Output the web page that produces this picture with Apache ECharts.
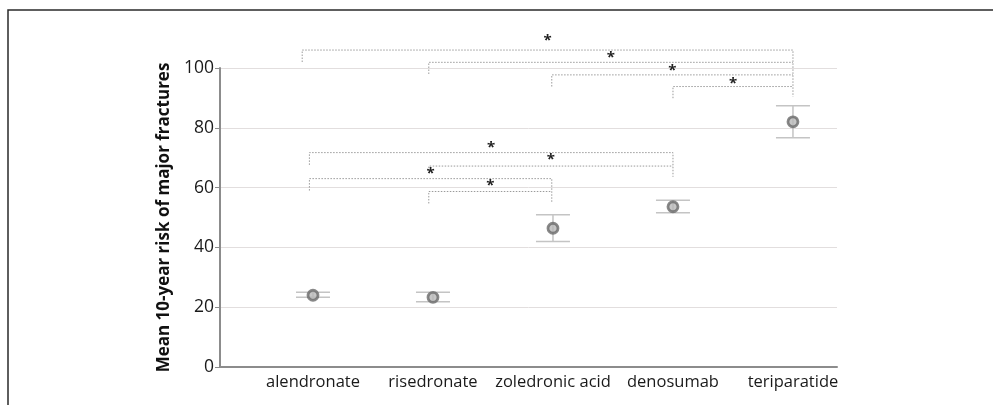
<!doctype html>
<html>

<head>
    <meta charset="utf-8">
    <title>10-year fracture risk</title>
    <script src="https://cdn.jsdelivr.net/npm/echarts@6/dist/echarts.min.js"></script>
</head>

<body style="margin:0;background:#fff;">
    <div id="container" style="width:993px;height:405px;"></div>

    <script type="text/javascript">
        // 药物分类及位置
        var drugs = ['alendronate', 'risedronate', 'zoledronic acid', 'denosumab', 'teriparatide'];
        var drugPos = [1, 2, 3, 4, 5];
        // 均值和误差范围
        var means = [24.0, 23.3, 46.4, 53.6, 82.0];
        var upper = [25.0, 25.0, 50.9, 55.8, 87.4];
        var lower = [23.3, 21.8, 42.0, 51.6, 76.7];
        // 显著性括号: 左x, 右x, 横线高度, 左脚底, 右脚底, 星号高度
        var brLeft = [0.91, 1.965, 2.99, 4, 0.97, 1.965, 0.97, 1.965];
        var brRight = [5, 5, 5, 5, 4, 4, 2.99, 2.99];
        var brTop = [106, 101.9, 97.7, 93.8, 71.7, 67.2, 63.0, 58.7];
        var brLeftEnd = [102, 98, 93.8, 89.9, 67.6, 65.5, 59, 54.7];
        var brRightEnd = [90.4, 101.9, 97.7, 93.8, 63.6, 67.2, 55.1, 58.7];
        var starY = [109.7, 104, 99.9, 95.4, 73.9, 69.9, 65.3, 61.2];
        var yTicks = [0, 20, 40, 60, 80, 100];

        var errData = drugPos.map(function(x, i) {
            return [x, lower[i], upper[i]];
        });
        var brData = brLeft.map(function(x, i) {
            return [x, brTop[i], brRight[i], brLeftEnd[i], brRightEnd[i], starY[i]];
        });

        var option = {
            animation: false,
            graphic: [{
                type: 'rect',
                shape: { x: 8, y: 10, width: 1100, height: 500 },
                style: { fill: 'none', stroke: '#2a2a2a', lineWidth: 1.5 },
                silent: true
            }],
            grid: { left: 220, right: 156, top: 68, bottom: 38 },
            xAxis: {
                type: 'value',
                min: 0.225,
                max: 5.367,
                splitLine: { show: false },
                axisTick: { show: false },
                axisLine: { lineStyle: { color: '#8c8c8c', width: 2 } },
                axisLabel: {
                    customValues: drugPos,
                    formatter: function(v) {
                        return drugs[Math.round(v) - 1];
                    },
                    color: '#1a1a1a',
                    fontSize: 16.5,
                    fontFamily: 'Open Sans',
                    margin: 7
                }
            },
            yAxis: {
                type: 'value',
                min: 0,
                max: 100,
                interval: 20,
                name: 'Mean 10-year risk of major fractures',
                nameLocation: 'middle',
                nameGap: 42,
                nameTextStyle: {
                    fontSize: 17,
                    fontWeight: 'bold',
                    color: '#111',
                    fontFamily: 'Open Sans'
                },
                axisLine: { show: true, lineStyle: { color: '#8c8c8c', width: 2 } },
                axisTick: { show: true, length: 5, lineStyle: { color: '#8c8c8c' } },
                axisLabel: {
                    color: '#1a1a1a',
                    fontSize: 17.5,
                    fontFamily: 'Open Sans',
                    margin: 6,
                    formatter: function(v) {
                        return yTicks.indexOf(v) >= 0 ? String(v) : '';
                    }
                },
                splitLine: { lineStyle: { color: '#e2dede', width: 1 } }
            },
            series: [{
                // 误差线
                type: 'custom',
                clip: false,
                z: 2,
                renderItem: function(params, api) {
                    var x = api.value(0);
                    var lo = api.coord([x, api.value(1)]);
                    var hi = api.coord([x, api.value(2)]);
                    var w = 17;
                    var st = { stroke: '#c4c4c4', lineWidth: 1.5 };
                    return {
                        type: 'group',
                        children: [
                            { type: 'line', shape: { x1: lo[0], y1: lo[1], x2: hi[0], y2: hi[1] }, style: st },
                            { type: 'line', shape: { x1: lo[0] - w, y1: lo[1], x2: lo[0] + w, y2: lo[1] }, style: st },
                            { type: 'line', shape: { x1: hi[0] - w, y1: hi[1], x2: hi[0] + w, y2: hi[1] }, style: st }
                        ]
                    };
                },
                data: errData
            }, {
                // 均值点
                type: 'scatter',
                z: 3,
                symbol: 'circle',
                symbolSize: 10,
                itemStyle: { color: '#b8b8b8', borderColor: '#6a6a6a', borderWidth: 2.8 },
                data: drugPos.map(function(x, i) { return [x, means[i]]; })
            }, {
                // 显著性括号
                type: 'custom',
                clip: false,
                z: 4,
                renderItem: function(params, api) {
                    var x1 = api.value(0), top = api.value(1), x2 = api.value(2);
                    var a = api.coord([x1, api.value(3)]);
                    var b = api.coord([x1, top]);
                    var c = api.coord([x2, top]);
                    var d = api.coord([x2, api.value(4)]);
                    var s = api.coord([(x1 + x2) / 2, api.value(5)]);
                    return {
                        type: 'group',
                        children: [{
                            type: 'polyline',
                            shape: { points: [a, b, c, d] },
                            style: { stroke: '#9a9a9a', lineWidth: 1, lineDash: [1.5, 1.5], fill: null }
                        }, {
                            type: 'text',
                            x: s[0],
                            y: s[1] + 2,
                            style: {
                                text: '*',
                                fill: '#222',
                                font: 'bold 15px "Open Sans"',
                                align: 'center',
                                verticalAlign: 'middle'
                            }
                        }]
                    };
                },
                data: brData
            }]
        };
        var myChart = echarts.init(document.getElementById('container'));
        myChart.setOption(option);
    </script>
</body>

</html>
